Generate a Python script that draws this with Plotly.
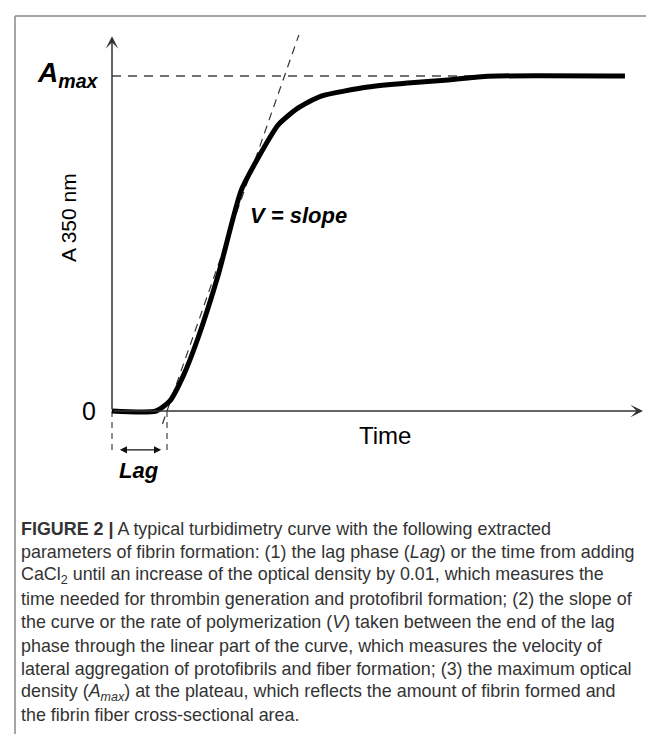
import plotly.graph_objects as go

# ---- data (time in arbitrary units, absorbance normalised to A_max = 1) ----
curve_time = [0, 8.3, 10.9, 13.4, 16.2, 20.0, 24.3, 27.5, 31.3, 35.0, 39.4, 48.2, 55.7, 63.3, 68.9, 72.7, 96.6]
curve_abs = [0, 0, 0.030, 0.104, 0.218, 0.406, 0.657, 0.755, 0.854, 0.904, 0.940, 0.967, 0.979, 0.988, 0.997, 1.0, 1.0]
lag_end = 10.36
a_max = 1.0
v_slope = 0.0452
tangent_time = [9.5, 35.2]
amax_line_time = [0, 71.0]
x_axis_end = 100.0
y_axis_end = 1.119
lag_marker_bottom = -0.125
lag_arrow_level = -0.116

caption_lines = [
    "<b>FIGURE 2 |</b> A typical turbidimetry curve with the following extracted",
    "parameters of fibrin formation: (1) the lag phase (<i>Lag</i>) or the time from adding",
    "CaCl<sub>2</sub> until an increase of the optical density by 0.01, which measures the",
    "time needed for thrombin generation and protofibril formation; (2) the slope of",
    "the curve or the rate of polymerization (<i>V</i>) taken between the end of the lag",
    "phase through the linear part of the curve, which measures the velocity of",
    "lateral aggregation of protofibrils and fiber formation; (3) the maximum optical",
    "density (<i>A<sub>max</sub></i>) at the plateau, which reflects the amount of fibrin formed and",
    "the fibrin fiber cross-sectional area.",
]

W, H = 654, 734
X0_PX, Y0_PX = 104, 403          # pixel position of the origin
PX_PER_T = 5.31
PX_PER_A = 335.0

def px(x):
    return x / W

def py(y):
    return 1 - y / H

AX = "Liberation Sans, Arial, sans-serif"
CAP = "Liberation Sans, Arial, sans-serif"

fig = go.Figure()

tangent_abs = [v_slope * (t - lag_end) for t in tangent_time]
fig.add_trace(go.Scatter(x=tangent_time, y=tangent_abs, mode="lines",
                         line=dict(color="#333333", width=1.2, dash="8px,6px"),
                         hoverinfo="skip"))
fig.add_trace(go.Scatter(x=amax_line_time, y=[a_max, a_max], mode="lines",
                         line=dict(color="#444444", width=1.5, dash="9px,7px"),
                         hoverinfo="skip"))
for t in (0, lag_end):
    fig.add_trace(go.Scatter(x=[t, t], y=[0, lag_marker_bottom], mode="lines",
                             line=dict(color="#444444", width=1.2, dash="6px,5px"),
                             hoverinfo="skip"))
fig.add_trace(go.Scatter(x=curve_time, y=curve_abs, mode="lines",
                         line=dict(color="black", width=5, shape="spline", smoothing=0.6),
                         hoverinfo="skip"))

anns = []
# axes with arrows
anns.append(dict(x=x_axis_end, y=0, ax=0, ay=0, xref="x", yref="y", axref="x", ayref="y",
                 showarrow=True, arrowhead=3, arrowsize=1.4, arrowwidth=1.5,
                 arrowcolor="#333333", text=""))
anns.append(dict(x=0, y=y_axis_end, ax=0, ay=0, xref="x", yref="y", axref="x", ayref="y",
                 showarrow=True, arrowhead=3, arrowsize=1.4, arrowwidth=1.5,
                 arrowcolor="#333333", text=""))
# lag double arrow
anns.append(dict(x=lag_end - 1.1, y=lag_arrow_level, ax=1.2, ay=lag_arrow_level,
                 xref="x", yref="y", axref="x", ayref="y",
                 showarrow=True, arrowhead=2, arrowside="end+start", arrowsize=1.1,
                 arrowwidth=1.3, arrowcolor="#111111", text=""))

# chart texts
anns.append(dict(x=px(93), y=py(66), xref="paper", yref="paper", xanchor="right", yanchor="middle",
                 text="<b><i>A</i></b><sub><b><i>max</i></b></sub>", showarrow=False,
                 font=dict(family=AX, size=28, color="black")))
anns.append(dict(x=px(90), y=py(403), xref="paper", yref="paper", xanchor="right", yanchor="middle",
                 text="0", showarrow=False, font=dict(family=AX, size=25, color="black")))
anns.append(dict(x=px(60), y=py(210), xref="paper", yref="paper", xanchor="center", yanchor="middle",
                 text="A 350 nm", textangle=-90, showarrow=False,
                 font=dict(family=AX, size=21, color="black")))
anns.append(dict(x=px(240), y=py(207), xref="paper", yref="paper", xanchor="left", yanchor="middle",
                 text="<b><i>V = slope</i></b>", showarrow=False,
                 font=dict(family=AX, size=22, color="black")))
anns.append(dict(x=px(349), y=py(428), xref="paper", yref="paper", xanchor="left", yanchor="middle",
                 text="Time", showarrow=False, font=dict(family=AX, size=24, color="black")))
anns.append(dict(x=px(131), y=py(462), xref="paper", yref="paper", xanchor="center", yanchor="middle",
                 text="<b><i>Lag</i></b>", showarrow=False,
                 font=dict(family=AX, size=22, color="black")))

for i, line in enumerate(caption_lines):
    anns.append(dict(x=px(11), y=py(521 + 23.3 * i), xref="paper", yref="paper",
                     xanchor="left", yanchor="middle", text=line, showarrow=False,
                     font=dict(family=CAP, size=17.9, color="#333333")))

shapes = [
    dict(type="line", xref="paper", yref="paper", x0=px(7), x1=1.0, y0=py(8), y1=py(8),
         line=dict(color="#888888", width=1.5)),
    dict(type="line", xref="paper", yref="paper", x0=px(7), x1=px(7), y0=py(8), y1=0,
         line=dict(color="#888888", width=1.5)),
]

fig.update_layout(
    width=W, height=H, margin=dict(l=0, r=0, t=0, b=0),
    paper_bgcolor="white", plot_bgcolor="white", showlegend=False,
    xaxis=dict(range=[-X0_PX / PX_PER_T, (W - X0_PX) / PX_PER_T], visible=False, fixedrange=True),
    yaxis=dict(range=[-(H - Y0_PX) / PX_PER_A, Y0_PX / PX_PER_A], visible=False, fixedrange=True),
    annotations=anns, shapes=shapes,
)

fig.write_html("out.html")
